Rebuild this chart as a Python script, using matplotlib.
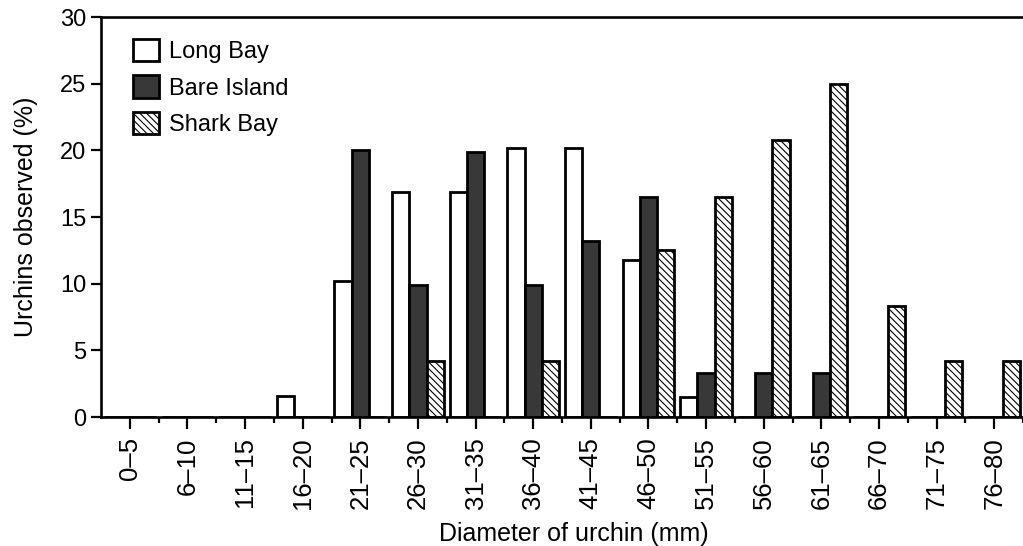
import numpy as np
import matplotlib
matplotlib.use('Agg')
import matplotlib.pyplot as plt

# size classes (mm) and % of urchins observed at each site
classes = ['0–5', '6–10', '11–15', '16–20', '21–25', '26–30', '31–35', '36–40',
           '41–45', '46–50', '51–55', '56–60', '61–65', '66–70', '71–75', '76–80']
long_bay = [0, 0, 0, 1.6, 10.2, 16.9, 16.9, 20.2, 20.2, 11.8, 1.5, 0, 0, 0, 0, 0]
bare_island = [0, 0, 0, 0, 20.0, 9.9, 19.9, 9.9, 13.2, 16.5, 3.3, 3.3, 3.3, 0, 0, 0]
shark_bay = [0, 0, 0, 0, 0, 4.2, 0, 4.2, 0, 12.5, 16.5, 20.8, 25.0, 8.3, 4.2, 4.2]

plt.rcParams['font.family'] = ['Liberation Sans', 'DejaVu Sans']
plt.rcParams['hatch.linewidth'] = 0.8

fig = plt.figure(figsize=(10.23, 5.46), dpi=100)
ax = fig.add_axes([101 / 1023, 129 / 546, 922 / 1023, 400 / 546])

x = np.arange(len(classes))
w = 0.3
lw = 2.0
ax.bar(x - w, long_bay, w, facecolor='white', edgecolor='black', linewidth=lw, label='Long Bay')
ax.bar(x, bare_island, w, facecolor='#383838', edgecolor='black', linewidth=lw, label='Bare Island')
ax.bar(x + w, shark_bay, w, facecolor='white', edgecolor='black', linewidth=lw,
       hatch='\\\\\\\\\\', label='Shark Bay')

ax.set_xlim(-0.5, 15.4)
ax.set_ylim(0, 30)
ax.set_yticks(range(0, 31, 5))
ax.set_xticks(x)
ax.set_xticklabels(classes, rotation=90)
ax.set_xticks(x + 0.5, minor=True)

for side in ['left', 'bottom', 'top']:
    ax.spines[side].set_linewidth(1.9)
ax.spines['right'].set_visible(False)

ax.tick_params(axis='y', length=7.5, width=1.6, labelsize=17, pad=3)
ax.tick_params(axis='x', which='major', length=8.5, width=1.6, labelsize=18.5, pad=6)
ax.tick_params(axis='x', which='minor', length=4.5, width=1.6)

ax.set_ylabel('Urchins observed (%)', fontsize=18, labelpad=16)
ax.set_xlabel('Diameter of urchin (mm)', fontsize=18)
ax.xaxis.set_label_coords(0.513, -0.262)

ax.legend(loc='upper left', bbox_to_anchor=(0.035, 0.945), frameon=False, fontsize=17,
          handlelength=1.08, handleheight=1.08, handletextpad=0.42, labelspacing=0.52,
          borderpad=0, borderaxespad=0)

fig.savefig('out.png', dpi=100)
